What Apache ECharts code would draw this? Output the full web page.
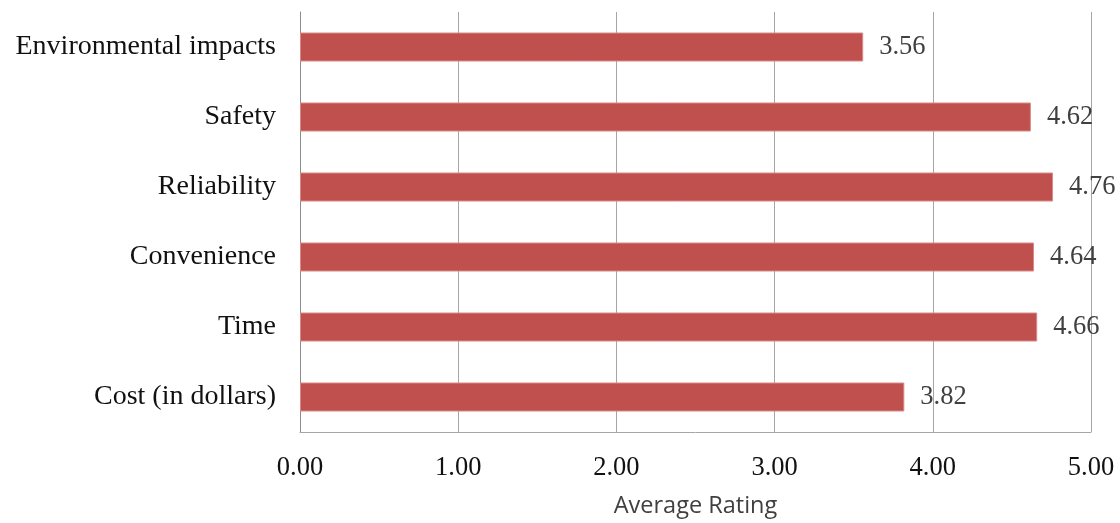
<!DOCTYPE html>
<html>
<head>
<meta charset="utf-8">
<script src="https://cdn.jsdelivr.net/npm/echarts@6/dist/echarts.min.js"></script>
<style>
  html, body { margin: 0; padding: 0; background: #fff; overflow: hidden; }
  #chart { width: 1120px; height: 523px; }
</style>
</head>
<body>
<div id="chart"></div>
<script>
// Factors, listed top to bottom
const categories = ['Environmental impacts', 'Safety', 'Reliability', 'Convenience', 'Time', 'Cost (in dollars)'];
// Average rating per factor
const ratings = [3.56, 4.62, 4.76, 4.64, 4.66, 3.82];
const tickValues = [0, 1, 2, 3, 4, 5];

const serif = '"Liberation Serif", "DejaVu Serif", serif';
const chart = echarts.init(document.getElementById('chart'));
chart.setOption({
  animation: false,
  grid: { left: 300, right: 29, top: 12, bottom: 87, containLabel: false },
  xAxis: {
    type: 'value',
    min: tickValues[0],
    max: tickValues[tickValues.length - 1],
    interval: 1,
    name: 'Average Rating',
    nameLocation: 'middle',
    nameGap: 62,
    nameTextStyle: { fontFamily: '"Open Sans", "Noto Sans", sans-serif', fontSize: 23.5, color: '#404040' },
    axisLine: { show: true, lineStyle: { color: '#a6a6a6', width: 1 } },
    axisTick: { show: false },
    axisLabel: {
      formatter: v => v.toFixed(2),
      fontFamily: serif, fontSize: 26.5, color: '#111', margin: 23
    },
    splitLine: { show: true, lineStyle: { color: '#a6a6a6', width: 1 } }
  },
  yAxis: {
    type: 'category',
    data: categories,
    inverse: true,
    axisLine: { show: true, lineStyle: { color: '#8c8c8c', width: 1 } },
    axisTick: { show: false },
    axisLabel: { fontFamily: serif, fontSize: 28, color: '#111', margin: 24 },
    splitLine: { show: false }
  },
  series: [{
    type: 'bar',
    data: ratings,
    barWidth: 29,
    itemStyle: { color: '#c0504d', borderColor: '#d98a88', borderWidth: 1 },
    label: {
      show: true,
      position: 'right',
      distance: 16,
      formatter: p => p.value.toFixed(2),
      fontFamily: serif, fontSize: 26.5, color: '#404040'
    }
  }]
});
</script>
</body>
</html>
